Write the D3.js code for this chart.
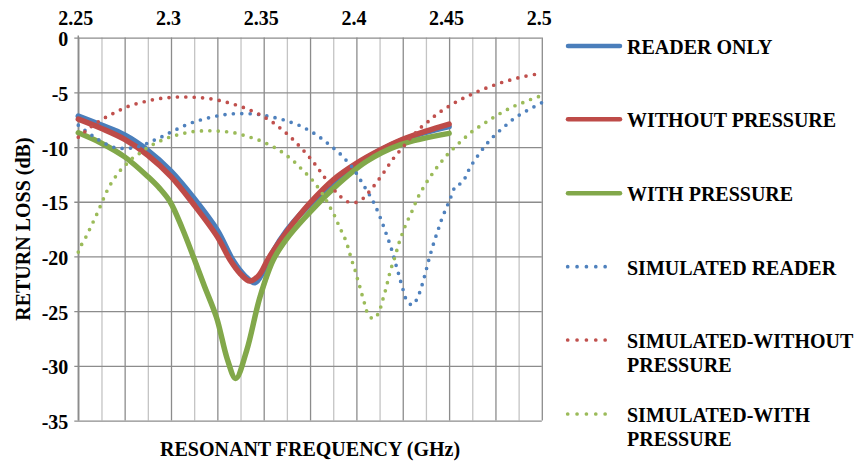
<!DOCTYPE html>
<html><head><meta charset="utf-8">
<script src="https://cdn.jsdelivr.net/npm/d3@7"></script>
<style>
html,body{margin:0;padding:0;background:#fff;}
</style></head>
<body><svg id="c" width="858" height="463"></svg>
<script>
// ---- data ----
const xTickValues = [2.25, 2.3, 2.35, 2.4, 2.45, 2.5];
const xTickLabels = ["2.25", "2.3", "2.35", "2.4", "2.45", "2.5"];
const yTickValues = [0, -5, -10, -15, -20, -25, -30, -35];

const freqReader = [2.25, 2.2625, 2.275, 2.2875, 2.3, 2.3125, 2.325, 2.3336, 2.34, 2.3453, 2.35, 2.3552, 2.3625, 2.37, 2.3875, 2.4, 2.425, 2.45];
const lossReader = [-7.17, -8.0, -8.9, -10.3, -12.2, -14.7, -17.6, -20.4, -21.8, -22.4, -21.3, -19.5, -17.6, -16.1, -13.3, -11.6, -9.35, -8.14];

const freqWithout = [2.25, 2.2625, 2.275, 2.2875, 2.3, 2.3125, 2.325, 2.3318, 2.3375, 2.3425, 2.3475, 2.3525, 2.36, 2.3675, 2.375, 2.3875, 2.4, 2.4125, 2.425, 2.4375, 2.45];
const lossWithout = [-7.45, -8.3, -9.3, -10.75, -12.7, -15.3, -18.2, -20.3, -21.6, -22.25, -21.7, -20.2, -18.3, -16.6, -15.1, -13.0, -11.5, -10.3, -9.3, -8.55, -7.9];

const freqWith = [2.25, 2.2625, 2.275, 2.2875, 2.294, 2.2995, 2.306, 2.312, 2.318, 2.3246, 2.3304, 2.3349, 2.3408, 2.348, 2.3552, 2.3624, 2.3714, 2.3875, 2.4056, 2.4235, 2.45];
const lossWith = [-8.7, -9.65, -10.9, -12.7, -13.8, -15.0, -17.4, -20.0, -22.7, -25.6, -29.4, -31.15, -28.6, -23.7, -20.3, -18.4, -16.6, -13.8, -11.3, -9.8, -8.75];

const freqSimReader = [2.25, 2.2579, 2.2621, 2.2666, 2.271, 2.2759, 2.2807, 2.2854, 2.2899, 2.2944, 2.2989, 2.3034, 2.3079, 2.3124, 2.3171, 2.322, 2.3268, 2.3317, 2.3365, 2.3415, 2.3464, 2.3512, 2.3561, 2.361, 2.3654, 2.37, 2.3743, 2.3786, 2.3827, 2.3867, 2.3905, 2.3939, 2.3971, 2.3998, 2.4025, 2.405, 2.4075, 2.4097, 2.4118, 2.4137, 2.4154, 2.4171, 2.4187, 2.4201, 2.4214, 2.4226, 2.4239, 2.4253, 2.4271, 2.4302, 2.4329, 2.4347, 2.4361, 2.4374, 2.4386, 2.4399, 2.4413, 2.4428, 2.4444, 2.446, 2.4479, 2.4498, 2.4516, 2.4537, 2.4568, 2.459, 2.4609, 2.4634, 2.4663, 2.4694, 2.4724, 2.476, 2.4796, 2.4834, 2.4873, 2.4919, 2.4963, 2.5];
const lossSimReader = [-8.0, -9.0, -9.45, -9.85, -10.1, -10.12, -10.03, -9.79, -9.45, -9.11, -8.72, -8.35, -8.0, -7.71, -7.47, -7.26, -7.1, -6.98, -6.95, -6.95, -7.01, -7.14, -7.32, -7.53, -7.78, -8.08, -8.47, -8.9, -9.42, -9.97, -10.5, -11.1, -11.7, -12.35, -13.1, -13.8, -14.5, -15.2, -16.0, -16.8, -17.6, -18.4, -19.2, -20.0, -20.8, -21.5, -22.3, -23.1, -24.0, -24.44, -23.8, -23.0, -22.2, -21.4, -20.6, -19.8, -19.0, -18.2, -17.4, -16.6, -15.8, -15.05, -14.3, -13.5, -13.3, -12.7, -12.0, -11.3, -10.6, -9.9, -9.3, -8.7, -8.17, -7.6, -7.14, -6.68, -6.28, -5.95];

const freqSimWithout = [2.25, 2.2538, 2.2574, 2.2615, 2.266, 2.2703, 2.2748, 2.2795, 2.2842, 2.2888, 2.2937, 2.2985, 2.3034, 2.3085, 2.3133, 2.3182, 2.3232, 2.328, 2.3327, 2.3374, 2.3421, 2.3465, 2.3509, 2.3552, 2.359, 2.3627, 2.3663, 2.3697, 2.373, 2.3762, 2.3791, 2.3821, 2.3879, 2.3913, 2.3953, 2.4002, 2.4043, 2.4073, 2.4106, 2.4136, 2.4163, 2.419, 2.4221, 2.4253, 2.4285, 2.4316, 2.4352, 2.4392, 2.4429, 2.4469, 2.451, 2.4553, 2.4598, 2.4643, 2.4687, 2.4733, 2.478, 2.4829, 2.4877, 2.4924, 2.4972, 2.5];
const lossSimWithout = [-9.1, -8.57, -8.08, -7.62, -7.17, -6.8, -6.43, -6.13, -5.92, -5.73, -5.58, -5.49, -5.43, -5.43, -5.46, -5.52, -5.64, -5.82, -6.04, -6.28, -6.59, -6.92, -7.32, -7.78, -8.29, -8.81, -9.39, -10.0, -10.6, -11.25, -11.9, -12.6, -13.9, -14.5, -15.0, -15.05, -14.6, -14.0, -13.3, -12.6, -11.95, -11.25, -10.6, -9.97, -9.3, -8.75, -8.14, -7.6, -7.07, -6.59, -6.16, -5.73, -5.37, -5.0, -4.7, -4.4, -4.12, -3.88, -3.66, -3.48, -3.33, -3.2];

const freqSimWith = [2.25, 2.2518, 2.2545, 2.2567, 2.259, 2.2614, 2.2639, 2.2664, 2.2693, 2.2723, 2.2757, 2.2793, 2.2833, 2.2872, 2.2915, 2.2961, 2.3007, 2.3054, 2.3102, 2.3151, 2.32, 2.325, 2.3298, 2.3347, 2.3394, 2.3441, 2.3487, 2.3532, 2.3576, 2.3617, 2.3656, 2.3692, 2.3725, 2.3759, 2.3789, 2.3818, 2.3844, 2.3867, 2.3889, 2.3908, 2.3929, 2.3948, 2.3962, 2.3976, 2.3992, 2.4005, 2.4019, 2.4032, 2.4046, 2.4061, 2.4091, 2.4122, 2.4136, 2.415, 2.4163, 2.4174, 2.4187, 2.4201, 2.4217, 2.4231, 2.4248, 2.4266, 2.4285, 2.4307, 2.4325, 2.4348, 2.4372, 2.4399, 2.4428, 2.4458, 2.449, 2.4525, 2.456, 2.4597, 2.4634, 2.4676, 2.4717, 2.4758, 2.4802, 2.4846, 2.4892, 2.4936, 2.4981, 2.5];
const lossSimWith = [-19.6, -18.9, -18.1, -17.3, -16.5, -15.6, -14.6, -13.7, -12.9, -12.2, -11.6, -11.0, -10.55, -10.06, -9.66, -9.3, -9.02, -8.81, -8.63, -8.54, -8.51, -8.54, -8.6, -8.72, -8.93, -9.18, -9.45, -9.82, -10.2, -10.7, -11.2, -11.8, -12.35, -12.95, -13.6, -14.3, -15.05, -15.8, -16.5, -17.3, -18.0, -18.8, -19.6, -20.4, -21.2, -22.0, -22.8, -23.6, -24.4, -25.2, -25.7, -25.1, -24.3, -23.5, -22.7, -21.9, -21.1, -20.4, -19.5, -18.7, -17.9, -17.1, -16.4, -15.6, -14.84, -14.1, -13.4, -12.7, -12.0, -11.35, -10.7, -10.1, -9.54, -8.97, -8.45, -8.0, -7.53, -7.1, -6.68, -6.3, -5.98, -5.68, -5.4, -5.3];

const seriesNames = ["READER ONLY", "WITHOUT PRESSURE", "WITH PRESSURE", "SIMULATED READER", "SIMULATED-WITHOUT PRESSURE", "SIMULATED-WITH PRESSURE"];

// ---- chart ----
const FONT = '"Liberation Serif", "Tinos", "Times New Roman", "DejaVu Serif", serif';
const svg = d3.select("#c");
const X0 = 78.3, X1 = 541.8, Y0 = 37.6, Y1 = 420.6;
const x = d3.scaleLinear().domain([2.25, 2.5]).range([X0, X1]);
const y = d3.scaleLinear().domain([0, -35]).range([Y0, Y1]);
const styleText = sel => sel.attr("font-family", FONT).style("font-family", FONT)
  .attr("font-weight", "bold").style("font-weight", "bold").attr("fill", "#000").attr("font-size", 20);

const series = [
  {name: seriesNames[0], f: freqReader, v: lossReader, color: "#4A7EBB", dotted: false},
  {name: seriesNames[1], f: freqWithout, v: lossWithout, color: "#BE4B48", dotted: false},
  {name: seriesNames[2], f: freqWith, v: lossWith, color: "#82A84A", dotted: false},
  {name: seriesNames[3], f: freqSimReader, v: lossSimReader, color: "#4F81BD", dotted: true},
  {name: seriesNames[4], f: freqSimWithout, v: lossSimWithout, color: "#C0504D", dotted: true},
  {name: seriesNames[5], f: freqSimWith, v: lossSimWith, color: "#9BBB59", dotted: true}
];

// vertical gridlines
const minorV = d3.range(0, 10).map(i => 2.2625 + i * 0.025);
const majorV = d3.range(0, 11).map(i => 2.25 + i * 0.025);
svg.append("g").attr("transform", `translate(0,${Y1})`)
  .call(d3.axisBottom(x).tickValues(minorV).tickSize(-(Y1 - Y0)).tickFormat(""))
  .call(g => g.select(".domain").remove())
  .call(g => g.selectAll("line").attr("stroke", "#c4c4c4").attr("stroke-width", 1.3));
svg.append("g").attr("transform", `translate(0,${Y1})`)
  .call(d3.axisBottom(x).tickValues(majorV).tickSize(-(Y1 - Y0)).tickFormat(""))
  .call(g => g.select(".domain").remove())
  .call(g => g.selectAll("line").attr("stroke", "#8c8c8c").attr("stroke-width", 1.3));

// horizontal gridlines + y labels
svg.append("g").attr("transform", `translate(${X1},0)`)
  .call(d3.axisLeft(y).tickValues(yTickValues).tickSizeInner(X1 - X0 + 4).tickSizeOuter(0).tickPadding(6).tickFormat(d => String(d)))
  .call(g => g.select(".domain").remove())
  .call(g => g.selectAll("line").attr("stroke", "#8c8c8c").attr("stroke-width", 1.3))
  .call(g => g.selectAll("text").attr("dy", null).attr("y", 8).call(styleText));

// left axis line
svg.append("line").attr("x1", X0).attr("x2", X0).attr("y1", Y0 - 2).attr("y2", Y1)
  .attr("stroke", "#8c8c8c").attr("stroke-width", 1.5);

// top labels
svg.append("g").attr("transform", `translate(-3,${Y0})`)
  .call(d3.axisTop(x).tickValues(xTickValues).tickSize(0).tickPadding(12.6).tickFormat((d, i) => xTickLabels[i]))
  .call(g => g.select(".domain").remove())
  .call(g => g.selectAll("text").call(styleText));

// series
const line = d3.line().x(d => x(d[0])).y(d => y(d[1])).curve(d3.curveCatmullRom.alpha(0.5));
series.forEach(s => {
  const pts = s.f.map((f, i) => [f, s.v[i]]);
  const p = svg.append("path").datum(pts).attr("d", line).attr("fill", "none").attr("stroke", s.color);
  if (s.dotted) p.attr("stroke-width", 3.7).attr("stroke-linecap", "round").attr("stroke-dasharray", "0 8.4");
  else p.attr("stroke-width", 5.5).attr("stroke-linecap", "round").attr("stroke-linejoin", "round");
});

// legend
const legRows = [46, 119.3, 193.3, 266.7, 340, 414];
const lg = svg.append("g");
series.forEach((s, i) => {
  const ry = legRows[i];
  const l = lg.append("line").attr("x1", 568).attr("x2", 620).attr("y1", ry).attr("y2", ry).attr("stroke", s.color);
  if (s.dotted) l.attr("x1", 567.7).attr("x2", 614.5).attr("stroke-width", 3.7).attr("stroke-linecap", "round").attr("stroke-dasharray", "0 9.36");
  else l.attr("stroke-width", 4.5).attr("stroke-linecap", "round");
  const parts = s.name.includes("-") ? [s.name.slice(0, s.name.indexOf(" ")), s.name.slice(s.name.indexOf(" ") + 1)] : [s.name];
  const t = lg.append("text").attr("x", 627).attr("y", ry + 8).call(styleText);
  parts.forEach((p, j) => t.append("tspan").attr("x", 627).attr("dy", j === 0 ? 0 : 24).text(p));
});

// axis titles
svg.append("text").attr("x", (X0 + X1) / 2).attr("y", 456).attr("text-anchor", "middle").call(styleText)
  .text("RESONANT FREQUENCY (GHz)");
svg.append("text").attr("transform", `translate(29.5,${(Y0 + Y1) / 2}) rotate(-90)`).attr("text-anchor", "middle").call(styleText)
  .text("RETURN LOSS (dB)");
</script></body></html>
